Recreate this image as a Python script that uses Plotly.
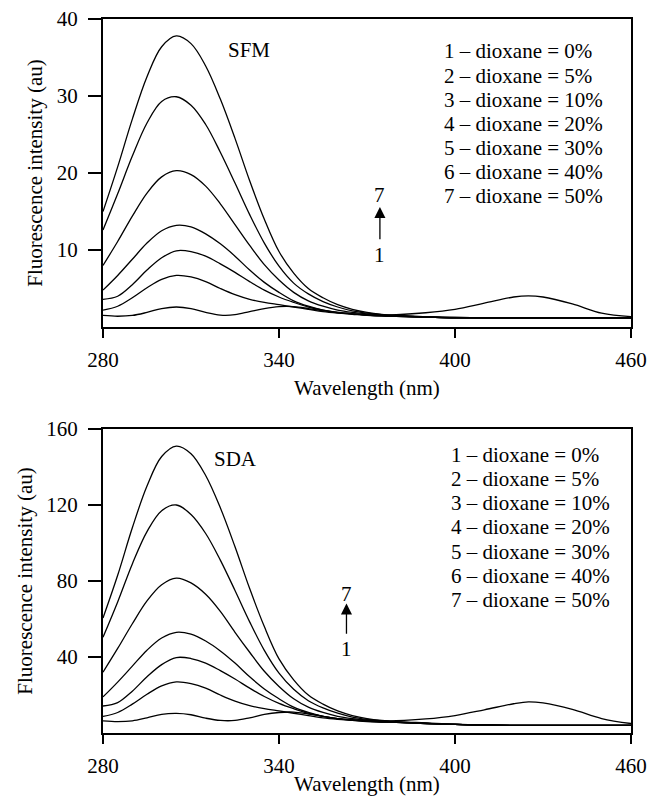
import plotly.graph_objects as go

# ---------------- data ----------------
wavelength = [280, 285, 290, 295, 300, 305, 310, 315, 320, 325, 330, 335, 340, 345, 350,
              355, 360, 365, 370, 375, 380, 390, 400, 410, 420, 425, 430, 440, 450, 460]

# SFM panel
sfm_1 = [1.5, 1.4, 1.5, 1.9, 2.4, 2.6, 2.4, 1.9, 1.55, 1.6, 2.0, 2.4, 2.65, 2.65, 2.4,
         2.1, 1.85, 1.7, 1.6, 1.55, 1.6, 1.85, 2.3, 3.1, 3.9, 4.05, 3.9, 3.0, 1.8, 1.35]
sfm_2 = [2.2, 2.7, 3.8, 5.1, 6.2, 6.7, 6.5, 5.9, 5.0, 4.2, 3.6, 3.2, 2.9, 2.6, 2.3,
         2.0, 1.8, 1.65, 1.5, 1.45, 1.4, 1.3, 1.2, 1.2, 1.2, 1.2, 1.2, 1.2, 1.2, 1.2]
sfm_3 = [3.6, 4.0, 5.5, 7.4, 9.0, 9.9, 9.8, 9.2, 8.2, 7.1, 5.9, 4.8, 3.9, 3.2, 2.6,
         2.2, 1.9, 1.7, 1.55, 1.45, 1.4, 1.3, 1.2, 1.2, 1.2, 1.2, 1.2, 1.2, 1.2, 1.2]
sfm_4 = [4.8, 6.7, 8.8, 10.9, 12.5, 13.2, 13.0, 12.1, 10.8, 9.2, 7.4, 5.8, 4.5, 3.4, 2.7,
         2.2, 1.9, 1.7, 1.55, 1.45, 1.4, 1.3, 1.2, 1.2, 1.2, 1.2, 1.2, 1.2, 1.2, 1.2]
sfm_5 = [8.0, 11.1, 14.4, 17.4, 19.5, 20.3, 19.8, 18.3, 16.0, 13.3, 10.6, 8.1, 6.1, 4.5, 3.4,
         2.7, 2.2, 1.9, 1.7, 1.55, 1.45, 1.3, 1.2, 1.2, 1.2, 1.2, 1.2, 1.2, 1.2, 1.2]
sfm_6 = [12.6, 17.3, 22.2, 26.5, 29.3, 29.9, 28.8, 26.3, 22.7, 18.7, 14.6, 10.9, 7.9, 5.7, 4.3,
         3.3, 2.6, 2.1, 1.8, 1.6, 1.45, 1.3, 1.25, 1.2, 1.2, 1.2, 1.2, 1.2, 1.2, 1.2]
sfm_7 = [15.0, 20.8, 27.0, 32.5, 36.4, 37.8, 36.8, 33.9, 29.6, 24.5, 19.0, 14.0, 9.8, 7.0, 5.0,
         3.8, 2.9, 2.3, 1.9, 1.65, 1.5, 1.35, 1.25, 1.2, 1.2, 1.2, 1.2, 1.2, 1.2, 1.2]

# SDA panel
sda_1 = [6.4, 6.0, 6.4, 8.0, 9.8, 10.3, 9.6, 7.8, 6.6, 6.6, 8.0, 9.8, 10.8, 11.0, 10.0,
         8.8, 7.6, 7.0, 6.6, 6.4, 6.5, 7.4, 9.2, 12.2, 15.4, 16.4, 15.8, 12.4, 7.6, 5.0]
sda_2 = [8.7, 10.8, 15.2, 20.4, 24.8, 26.9, 26.0, 23.6, 20.0, 16.8, 14.4, 12.8, 11.6, 10.4, 9.2,
         8.0, 7.2, 6.6, 6.0, 5.8, 5.6, 5.0, 4.5, 4.2, 4.0, 4.0, 4.0, 4.0, 4.0, 4.0]
sda_3 = [14.2, 16.0, 22.0, 29.6, 36.0, 39.7, 39.2, 36.8, 32.8, 28.4, 23.6, 19.2, 15.6, 12.8, 10.4,
         8.8, 7.6, 6.8, 6.2, 5.8, 5.6, 5.0, 4.5, 4.2, 4.0, 4.0, 4.0, 4.0, 4.0, 4.0]
sda_4 = [19.0, 26.8, 35.2, 43.6, 50.0, 53.0, 52.0, 48.4, 43.2, 36.8, 29.6, 23.2, 18.0, 13.6, 10.8,
         8.8, 7.6, 6.8, 6.2, 5.8, 5.6, 5.0, 4.5, 4.2, 4.0, 4.0, 4.0, 4.0, 4.0, 4.0]
sda_5 = [32.0, 44.5, 57.5, 69.5, 78.0, 81.5, 79.0, 73.0, 64.0, 53.0, 42.5, 32.5, 24.5, 18.0, 13.6,
         10.8, 8.8, 7.6, 6.8, 6.2, 5.8, 5.1, 4.5, 4.2, 4.0, 4.0, 4.0, 4.0, 4.0, 4.0]
sda_6 = [50.4, 69.0, 89.0, 106.0, 117.0, 120.0, 115.0, 105.0, 91.0, 75.0, 58.5, 43.5, 31.5, 23.0, 17.0,
         13.2, 10.4, 8.4, 7.2, 6.4, 5.8, 5.1, 4.5, 4.2, 4.0, 4.0, 4.0, 4.0, 4.0, 4.0]
sda_7 = [60.5, 83.0, 108.0, 130.0, 145.5, 151.0, 147.0, 135.5, 118.5, 98.0, 76.0, 56.0, 39.0, 28.0, 20.0,
         15.2, 11.6, 9.2, 7.6, 6.6, 6.0, 5.3, 4.6, 4.2, 4.0, 4.0, 4.0, 4.0, 4.0, 4.0]

legend_labels = ["1 – dioxane = 0%", "2 – dioxane = 5%", "3 – dioxane = 10%",
                 "4 – dioxane = 20%", "5 – dioxane = 30%", "6 – dioxane = 40%",
                 "7 – dioxane = 50%"]
x_ticks = [280, 340, 400, 460]
sfm_y_ticks = [10, 20, 30, 40]
sda_y_ticks = [40, 80, 120, 160]
x_title = "Wavelength (nm)"
y_title = "Fluorescence intensity (au)"

# ---------------- figure ----------------
FONT = "Liberation Serif"
FS = 21
txt = dict(family=FONT, size=FS, color="black")

fig = go.Figure()
for s in [sfm_1, sfm_2, sfm_3, sfm_4, sfm_5, sfm_6, sfm_7]:
    fig.add_trace(go.Scatter(x=wavelength, y=s, mode="lines", xaxis="x", yaxis="y",
                             line=dict(color="black", width=1.3, shape="spline", smoothing=1.0),
                             showlegend=False, hoverinfo="skip"))
for s in [sda_1, sda_2, sda_3, sda_4, sda_5, sda_6, sda_7]:
    fig.add_trace(go.Scatter(x=wavelength, y=s, mode="lines", xaxis="x2", yaxis="y2",
                             line=dict(color="black", width=1.3, shape="spline", smoothing=1.0),
                             showlegend=False, hoverinfo="skip"))

axis_common = dict(showline=True, linecolor="black", linewidth=2, mirror=True,
                   showgrid=False, zeroline=False, ticks="outside", tickcolor="black",
                   tickwidth=2, tickfont=txt, automargin=False)

xa = dict(axis_common, range=[280, 460], tickvals=x_ticks, ticklen=9,
          ticklabelstandoff=4)
ya_title = dict(text=y_title, font=txt, standoff=8)

fig.update_layout(
    width=648, height=800,
    margin=dict(l=103, r=17, t=19, b=67),
    paper_bgcolor="white", plot_bgcolor="white",
    font=txt,
    xaxis=dict(xa, domain=[0, 1], anchor="y"),
    yaxis=dict(axis_common, range=[0, 40], tickvals=sfm_y_ticks, ticklen=13,
               ticklabelstandoff=6,
               domain=[0.5686, 1.0], anchor="x", title=ya_title),
    xaxis2=dict(xa, domain=[0, 1], anchor="y2"),
    yaxis2=dict(axis_common, range=[0, 160], tickvals=sda_y_ticks, ticklen=13,
                ticklabelstandoff=6,
                domain=[0.0, 0.4258], anchor="x2", title=ya_title),
)

ann = []
# x-axis titles (placed below each panel)
ann.append(dict(x=0.5, y=0.4832, xref="paper", yref="paper", text=x_title,
                showarrow=False, font=txt, xanchor="center", yanchor="middle"))
ann.append(dict(x=0.5, y=-0.0905, xref="paper", yref="paper", text=x_title,
                showarrow=False, font=txt, xanchor="center", yanchor="bottom"))
# panel names
ann.append(dict(x=329.8, y=36.0, xref="x", yref="y", text="SFM", showarrow=False,
                font=txt, xanchor="center", yanchor="middle"))
ann.append(dict(x=325.0, y=144.0, xref="x2", yref="y2", text="SDA", showarrow=False,
                font=txt, xanchor="center", yanchor="middle"))
# legend text blocks
for i, lab in enumerate(legend_labels):
    ann.append(dict(x=395.6, y=35.8 - i * 3.14, xref="x", yref="y", text=lab,
                    showarrow=False, font=txt, xanchor="left", yanchor="middle"))
    ann.append(dict(x=398.0, y=146.4 - i * 12.74, xref="x2", yref="y2", text=lab,
                    showarrow=False, font=txt, xanchor="left", yanchor="middle"))
# arrows with 1 -> 7
for xr, yr, xa_, tip, tail, y7, y1 in [("x", "y", 374.4, 15.6, 11.2, 17.2, 9.4),
                                        ("x2", "y2", 363.0, 68.2, 51.5, 73.3, 44.0)]:
    ann.append(dict(x=xa_, y=tip, ax=xa_, ay=tail, xref=xr, yref=yr, axref=xr, ayref=yr,
                    text="", showarrow=True, arrowhead=2, arrowsize=1.7, arrowwidth=1.3,
                    arrowcolor="black", standoff=0, startstandoff=0))
    ann.append(dict(x=xa_, y=y7, xref=xr, yref=yr, text="7", showarrow=False, font=txt,
                    xanchor="center", yanchor="middle"))
    ann.append(dict(x=xa_, y=y1, xref=xr, yref=yr, text="1", showarrow=False, font=txt,
                    xanchor="center", yanchor="middle"))
fig.update_layout(annotations=ann)

fig.write_html("out.html")
